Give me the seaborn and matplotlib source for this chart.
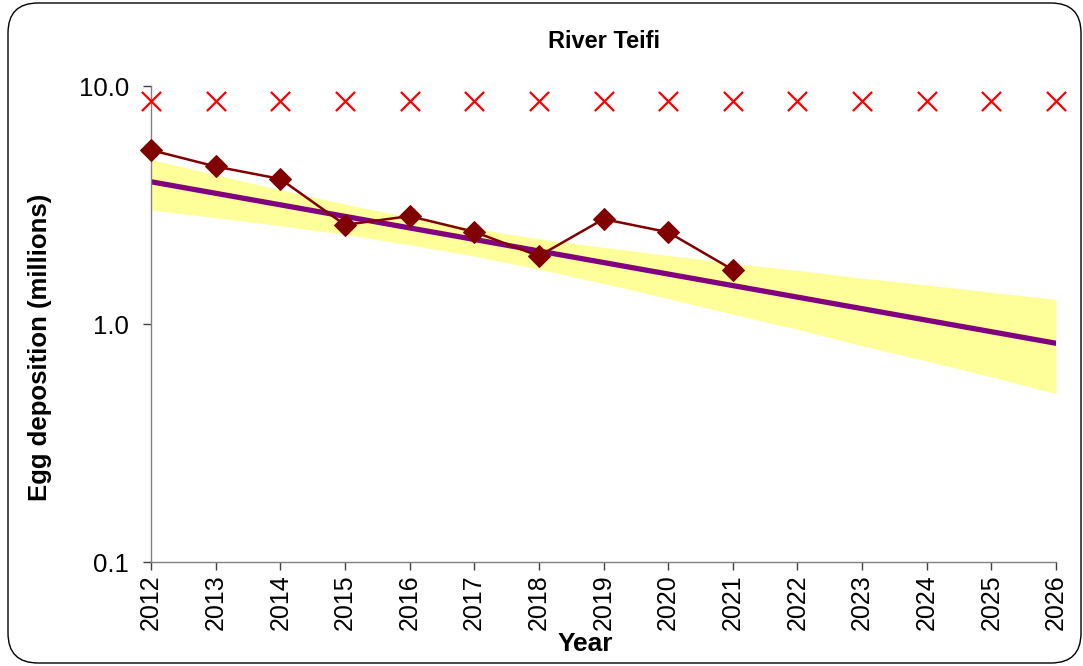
import numpy as np
import pandas as pd
import matplotlib
matplotlib.use("Agg")
import matplotlib.pyplot as plt
from matplotlib.patches import FancyBboxPatch
import seaborn as sns

# observed egg deposition (millions)
obs_years = [2012, 2013, 2014, 2015, 2016, 2017, 2018, 2019, 2020, 2021]
obs_eggs = [5.38, 4.59, 4.07, 2.61, 2.84, 2.44, 1.93, 2.76, 2.43, 1.69]

# conservation limit markers
cl_years = list(range(2012, 2027))
cl_eggs = [8.66] * 15

# regression trend (straight on log scale) and its confidence band
trend_years = [2012, 2026]
trend_eggs = [3.96, 0.83]
band_years = list(range(2012, 2027))
band_upper = [4.92, 4.24, 3.66, 3.19, 2.81, 2.52, 2.28, 2.10, 1.94, 1.80,
              1.68, 1.56, 1.46, 1.36, 1.27]
band_lower = [3.01, 2.80, 2.59, 2.38, 2.15, 1.93, 1.70, 1.48, 1.28, 1.10,
              0.95, 0.81, 0.70, 0.60, 0.51]

sns.set_style("white")
plt.rcParams['font.family'] = ['Liberation Sans', 'DejaVu Sans']
plt.rcParams['text.color'] = 'black'
plt.rcParams['axes.labelcolor'] = 'black'
plt.rcParams['xtick.color'] = 'black'
plt.rcParams['ytick.color'] = 'black'

fig = plt.figure(figsize=(10.83, 6.66), dpi=100)
ax = fig.add_axes([151 / 1083, 1 - 562 / 666, 905 / 1083, 476 / 666])

# rounded frame around the chart
frame = FancyBboxPatch((0.38, 0.33), 10.13, 6.00,
                       boxstyle="round,pad=0.3,rounding_size=0.3",
                       transform=fig.dpi_scale_trans, fill=False,
                       edgecolor='black', linewidth=1.0, zorder=0)
fig.patches.append(frame)

ax.fill_between(band_years, band_lower, band_upper, color='#FFFF99', lw=0, zorder=1)

sns.lineplot(x=trend_years, y=trend_eggs, ax=ax, color='#800080', linewidth=3.8,
             solid_capstyle='round', zorder=2)
sns.lineplot(x=obs_years, y=obs_eggs, ax=ax, color='#800000', linewidth=1.8,
             marker='D', markersize=11.5, markeredgecolor='#800000', zorder=3,
             clip_on=False)
sns.scatterplot(x=cl_years, y=cl_eggs, ax=ax, marker='x', color='#FF0000', s=190,
                linewidth=1.6, zorder=4, clip_on=False)

ax.set_yscale('log')
ax.set_ylim(0.1, 10)
ax.set_xlim(2012, 2026)
ax.set_yticks([0.1, 1, 10])
ax.set_yticklabels(['0.1', '1.0', '10.0'])
ax.minorticks_off()
ax.set_xticks(cl_years)
ax.set_xticklabels([str(y) for y in cl_years], rotation=90)

for side in ['top', 'right']:
    ax.spines[side].set_visible(False)
for side in ['left', 'bottom']:
    ax.spines[side].set_color('#808080')
    ax.spines[side].set_linewidth(1.0)
ax.tick_params(axis='both', direction='out', length=6, width=1.0, color='#404040',
               labelsize=18.5, left=True, bottom=True)
ax.tick_params(axis='y', pad=10)
ax.tick_params(axis='x', pad=3, labelsize=18)

ax.set_xlabel('Year', fontsize=19, fontweight='bold', va='top')
ax.xaxis.set_label_coords(0.4796, -0.148)
ax.set_ylabel('Egg deposition (millions)', fontsize=18.5, fontweight='bold')
ax.yaxis.set_label_coords(-0.1094, 0.45)
ax.set_title('River Teifi', fontsize=17, fontweight='bold', pad=27)

fig.savefig('out.png', dpi=100)
